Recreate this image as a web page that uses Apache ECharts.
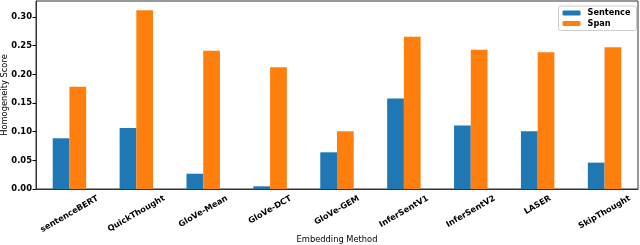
<!DOCTYPE html>
<html><head><meta charset="utf-8">
<script src="https://cdn.jsdelivr.net/npm/echarts@6/dist/echarts.min.js"></script>
<style>html,body{margin:0;padding:0;background:#fff}#c{width:640px;height:245px}</style>
</head><body><div id="c"></div>
<script>
const categories = ["sentenceBERT","QuickThought","GloVe-Mean","GloVe-DCT","GloVe-GEM","InferSentV1","InferSentV2","LASER","SkipThought"];
const sentence = [0.0885,0.1065,0.0267,0.0047,0.064,0.158,0.111,0.1007,0.046];
const span = [0.1785,0.312,0.241,0.2124,0.1007,0.2658,0.243,0.2386,0.2473];
const seriesNames = ["Sentence","Span"];
const F = "DejaVu Sans";
const FS = 8.2;
const chart = echarts.init(document.getElementById('c'));
chart.setOption({
  animation:false,
  textStyle:{fontFamily:F},
  grid:{left:36,right:2,top:1,bottom:56,show:true,borderColor:'#333',borderWidth:1,containLabel:false,outerBoundsMode:'none'},
  legend:{
    data:seriesNames, right:3.5, top:6, orient:'vertical',
    itemWidth:18, itemHeight:5, itemGap:2.5,
    backgroundColor:'#fff', borderColor:'#ccc', borderWidth:1, borderRadius:2, padding:[3,6,3,4],
    textStyle:{fontFamily:F,fontWeight:'bold',fontSize:FS,color:'#000',padding:[0,0,0,2]}
  },
  xAxis:{
    type:'category', data:categories,
    name:'Embedding Method', nameLocation:'middle', nameGap:47, nameMoveOverlap:false,
    nameTextStyle:{fontFamily:F,fontSize:8.3,color:'#000'},
    axisLine:{lineStyle:{color:'#333'}},
    axisTick:{alignWithLabel:true,length:3.5,lineStyle:{color:'#000'}},
    axisLabel:{show:false}
  },
  yAxis:{
    type:'value', min:0, max:0.328, interval:0.05,
    name:'Homogeneity Score', nameLocation:'middle', nameGap:27, nameMoveOverlap:false,
    nameTextStyle:{fontFamily:F,fontSize:8.3,color:'#000'},
    axisLine:{show:true,lineStyle:{color:'#333'}},
    axisTick:{show:true,length:3.5,lineStyle:{color:'#000'}},
    splitLine:{show:false},
    axisLabel:{fontFamily:F,fontWeight:'bold',fontSize:8.4,color:'#000',margin:4,showMaxLabel:false,
      formatter:v=>v.toFixed(2)}
  },
  series:[
    {name:seriesNames[0],type:'bar',data:sentence,barWidth:'25%',barGap:'0%',itemStyle:{color:'#1f77b4'}},
    {name:seriesNames[1],type:'bar',data:span,barWidth:'25%',barGap:'0%',itemStyle:{color:'#ff7f0e'}}
  ]
});
// Category tick labels, rotated 30° with matplotlib-style alignment (ha=center, va=top),
// positioned from the chart's own category scale.
const ctx = document.createElement('canvas').getContext('2d');
ctx.font = 'bold ' + FS + 'px "' + F + '"';
const H = 9.6, PAD = 4.6;
const axisY = chart.convertToPixel({yAxisIndex:0}, 0);
const labels = categories.map((c, i) => {
  const px = chart.convertToPixel({xAxisIndex:0}, i);
  const w = ctx.measureText(c).width;
  return {
    type:'text', x:px, y:axisY + PAD + 0.25 * w + 0.433 * H, rotation:Math.PI / 6, silent:true,
    style:{text:c, align:'center', verticalAlign:'middle', fontFamily:F, fontWeight:'bold', fontSize:FS, fill:'#000'}
  };
});
chart.setOption({graphic:labels});
</script></body></html>
